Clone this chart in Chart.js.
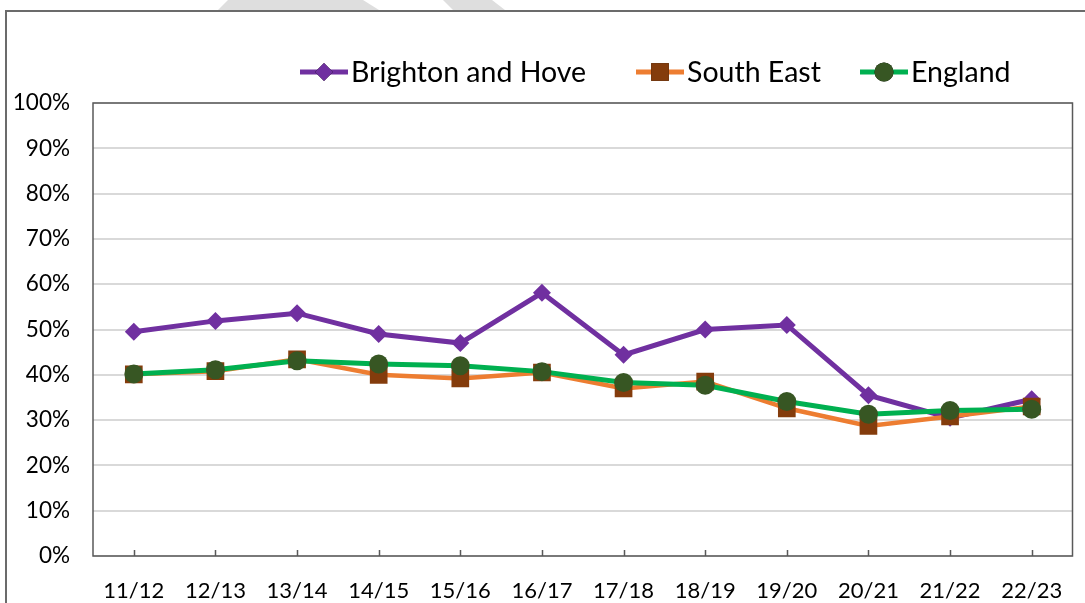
<!DOCTYPE html>
<html>
<head>
<meta charset="utf-8">
<script src="https://cdn.jsdelivr.net/npm/chart.js@4/dist/chart.umd.min.js"></script>
<style>
  body { margin: 0; background: #fff; }
  #wrap { position: relative; width: 1085px; height: 603px; overflow: hidden; }
  .shade { position: absolute; top: 0; height: 10px; background: #dedede; }
  #frame { position: absolute; left: 5px; top: 10px; width: 1200px; height: 700px;
           border-top: 2px solid #6b6b6b; border-left: 2px solid #6b6b6b; }
  canvas { position: absolute; left: 0; top: 0; }
</style>
</head>
<body>
<div id="wrap">
  <div class="shade" style="left:218px;width:161px;clip-path:polygon(10px 0,145px 0,161px 100%,0 100%);"></div>
  <div class="shade" style="left:443px;width:62px;clip-path:polygon(0 0,49px 0,62px 100%,10px 100%);"></div>
  <div id="frame"></div>
  <canvas id="chart" width="1085" height="603"></canvas>
</div>
<script>
// Chart data (percent)
const categories = ['11/12', '12/13', '13/14', '14/15', '15/16', '16/17', '17/18', '18/19', '19/20', '20/21', '21/22', '22/23'];
const brighton = [49.5, 51.9, 53.6, 49.0, 47.0, 58.1, 44.4, 50.0, 51.0, 35.5, 30.5, 34.6];
const southEast = [40.1, 40.8, 43.4, 40.0, 39.2, 40.5, 37.0, 38.5, 32.6, 28.7, 30.8, 33.0];
const england = [40.2, 41.1, 43.1, 42.4, 42.0, 40.7, 38.3, 37.7, 34.1, 31.3, 32.1, 32.4];
const seriesNames = ['Brighton and Hove', 'South East', 'England'];
const yTicks = [0, 10, 20, 30, 40, 50, 60, 70, 80, 90, 100];

const FONT = 'Lato, "Noto Sans", sans-serif';

// plot border + inward x tick marks + legend
const decorations = {
    id: 'decorations',
    beforeDatasetsDraw(chart) {
        const { ctx, chartArea: a } = chart;
        ctx.save();
        ctx.strokeStyle = '#595959';
        ctx.lineWidth = 1.5;
        ctx.strokeRect(a.left, a.top, a.right - a.left, a.bottom - a.top);
        const xs = chart.scales.x;
        ctx.beginPath();
        xs.ticks.forEach((t, i) => {
            const px = Math.round(xs.getPixelForTick(i)) + 0.5;
            ctx.moveTo(px, a.bottom);
            ctx.lineTo(px, a.bottom - 6);
        });
        ctx.stroke();
        ctx.restore();
    },
    afterDraw(chart) {
        const ctx = chart.ctx;
        const starts = [300, 636, 860];
        const y = 72;
        ctx.save();
        ctx.font = '28.5px ' + FONT;
        ctx.textBaseline = 'middle';
        chart.data.datasets.forEach((ds, i) => {
            const x0 = starts[i];
            ctx.strokeStyle = ds.borderColor;
            ctx.lineWidth = 5;
            ctx.beginPath();
            ctx.moveTo(x0, y);
            ctx.lineTo(x0 + 48, y);
            ctx.stroke();
            Chart.helpers.drawPoint(ctx, {
                pointStyle: ds.pointStyle,
                radius: ds.pointRadius,
                borderWidth: 0
            }, x0 + 24, y);
            ctx.fillStyle = ds.pointBackgroundColor;
            ctx.fill();
            ctx.fillStyle = '#000';
            ctx.fillText(ds.label, x0 + 51, y + 1);
        });
        ctx.restore();
    }
};

const ctx = document.getElementById('chart').getContext('2d');
const chart = new Chart(ctx, {
    type: 'line',
    data: {
        labels: categories,
        datasets: [{
            label: seriesNames[0],
            data: brighton,
            borderColor: '#7030A0',
            borderWidth: 5,
            pointStyle: 'rectRot',
            pointRadius: 9,
            pointBorderWidth: 0,
            pointBackgroundColor: '#7030A0',
            order: 3
        }, {
            label: seriesNames[1],
            data: southEast,
            borderColor: '#ED7D31',
            borderWidth: 4.5,
            pointStyle: 'rect',
            pointRadius: 12.5,
            pointBorderWidth: 0,
            pointBackgroundColor: '#843C0C',
            order: 2
        }, {
            label: seriesNames[2],
            data: england,
            borderColor: '#00B050',
            borderWidth: 5,
            pointStyle: 'circle',
            pointRadius: 9.5,
            pointBorderWidth: 0,
            pointBackgroundColor: '#375623',
            order: 1
        }]
    },
    options: {
        responsive: false,
        animation: false,
        layout: { padding: { top: 103, right: 10, left: 0, bottom: 0 } },
        plugins: {
            legend: { display: false },
            tooltip: { enabled: false }
        },
        scales: {
            x: {
                offset: true,
                grid: { display: false },
                border: { display: false },
                ticks: {
                    color: '#000',
                    padding: 14,
                    maxRotation: 0,
                    font: { family: FONT, size: 22 }
                },
                afterFit(scale) { scale.height = 47; }
            },
            y: {
                min: 0,
                max: 100,
                afterBuildTicks(scale) { scale.ticks = yTicks.map(v => ({ value: v })); },
                grid: { color: '#d9d9d9', lineWidth: 2, drawTicks: false },
                border: { display: false },
                ticks: {
                    color: '#000',
                    padding: 23,
                    font: { family: FONT, size: 22.5 },
                    callback: v => v + '%'
                },
                afterFit(scale) { scale.width = 93; }
            }
        }
    },
    plugins: [decorations]
});
</script>
</body>
</html>
